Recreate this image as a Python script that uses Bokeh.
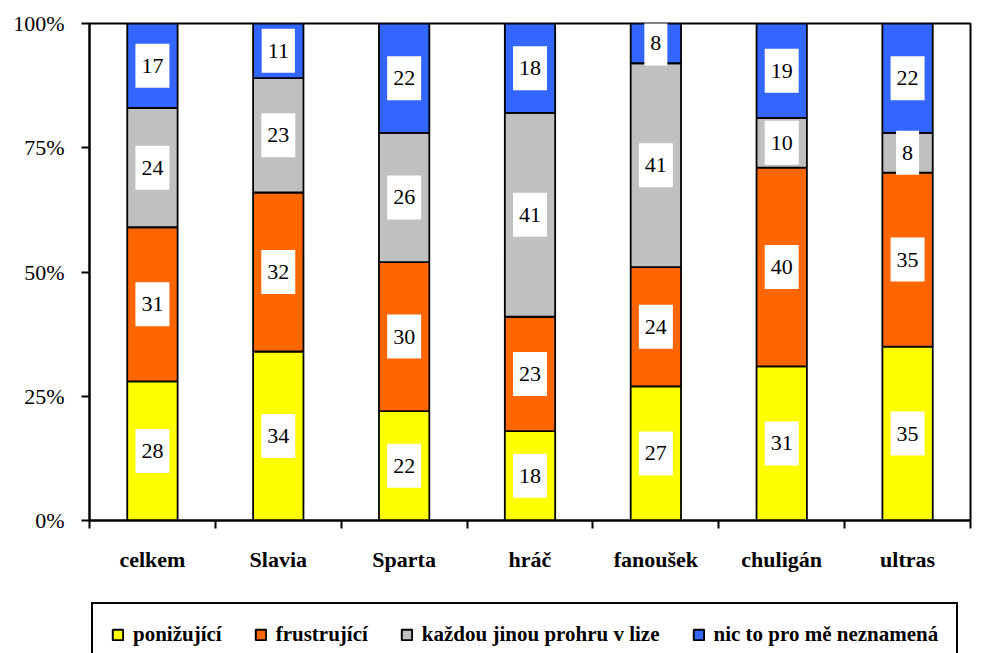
from bokeh.plotting import figure
from bokeh.layouts import column
from bokeh.models import Range1d, FixedTicker, Legend, LegendItem, ColumnDataSource
from bokeh.core.properties import value
from bokeh.embed import file_html
from bokeh.resources import INLINE

categories = ["celkem", "Slavia", "Sparta", "hráč", "fanoušek", "chuligán", "ultras"]
series_names = ["ponižující", "frustrující", "každou jinou prohru v lize", "nic to pro mě neznamená"]
ponizujici = [28, 34, 22, 18, 27, 31, 35]
frustrujici = [31, 32, 30, 23, 24, 40, 35]
kazdou = [24, 23, 26, 41, 41, 10, 8]
nic = [17, 11, 22, 18, 8, 19, 22]
y_ticks = [0, 25, 50, 75, 100]
y_tick_labels = ["0%", "25%", "50%", "75%", "100%"]

colors = ["#FFFF00", "#FF6600", "#C0C0C0", "#3366FF"]
FONT = "Times"

series = [ponizujici, frustrujici, kazdou, nic]
keys = ["s0", "s1", "s2", "s3"]
xs = [i + 0.5 for i in range(len(categories))]

data = dict(x=xs)
for k, s in zip(keys, series):
    data[k] = s
src = ColumnDataSource(data)

p = figure(width=998, height=600, output_backend="svg", toolbar_location=None,
           x_range=Range1d(0, len(categories)), y_range=Range1d(0, 100),
           min_border_left=89, min_border_right=28, min_border_top=23, min_border_bottom=80)
p.grid.visible = False
p.outline_line_color = "black"
p.outline_line_width = 2
p.background_fill_color = "white"
p.border_fill_color = "white"

rs = p.vbar_stack(keys, x="x", width=0.4, source=src, color=colors,
                  line_color="black", line_width=1.8)

# value labels
lx, ly, lt = [], [], []
bottoms = [0] * len(categories)
for s in series:
    for i, v in enumerate(s):
        lx.append(xs[i])
        ly.append(bottoms[i] + v / 2)
        lt.append(str(v))
        bottoms[i] += v
lsrc = ColumnDataSource(dict(x=lx, y=ly, t=lt))
p.text(x="x", y="y", text="t", source=lsrc, text_font=value(FONT), text_font_size="22px",
       text_align="center", text_baseline="middle", text_color="black",
       background_fill_color="white", padding=dict(left=6, right=6, top=15, bottom=15))

# y axis
p.yaxis.ticker = FixedTicker(ticks=y_ticks, minor_ticks=[])
p.yaxis.major_label_overrides = {t: l for t, l in zip(y_ticks, y_tick_labels)}
p.yaxis.major_label_text_font = FONT
p.yaxis.major_label_text_font_size = "22px"
p.yaxis.major_label_text_color = "black"
p.yaxis.major_tick_out = 8
p.yaxis.major_tick_in = 0
p.yaxis.major_tick_line_width = 2
p.yaxis.axis_line_width = 2
p.yaxis.major_label_standoff = 17
p.yaxis.minor_tick_line_color = None

# x axis
p.xaxis.ticker = FixedTicker(ticks=xs, minor_ticks=list(range(len(categories) + 1)))
p.xaxis.major_label_overrides = {x: c for x, c in zip(xs, categories)}
p.xaxis.major_label_text_font = FONT
p.xaxis.major_label_text_font_style = "bold"
p.xaxis.major_label_text_font_size = "22px"
p.xaxis.major_label_text_color = "black"
p.xaxis.major_tick_line_color = None
p.xaxis.major_tick_out = 8
p.xaxis.major_tick_in = 0
p.xaxis.minor_tick_out = 8
p.xaxis.minor_tick_in = 0
p.xaxis.minor_tick_line_width = 2
p.xaxis.minor_tick_line_color = "black"
p.xaxis.axis_line_width = 2
p.xaxis.major_label_standoff = 18

# legend strip below the chart (its bars lie outside its visible range)
pl = figure(width=998, height=53, output_backend="svg", toolbar_location=None,
            x_range=Range1d(0, len(categories)), y_range=Range1d(200, 300),
            x_axis_location=None, y_axis_location=None,
            min_border_left=89, min_border_right=28, min_border_top=0, min_border_bottom=0)
pl.grid.visible = False
pl.outline_line_color = None
pl.border_fill_color = "white"
lrs = pl.vbar_stack(keys, x="x", width=0.4, source=src, color=colors,
                    line_color="black", line_width=2)
items = [LegendItem(label=n, renderers=[r]) for n, r in zip(series_names, lrs)]
legend = Legend(items=items, orientation="horizontal", location="top_left",
                label_text_font=FONT, label_text_font_style="bold", label_text_font_size="21px",
                label_text_color="black", glyph_width=13, glyph_height=13, label_standoff=9,
                spacing=32, padding=18, margin=2, border_line_color="black",
                border_line_width=2.5, border_line_alpha=1, background_fill_alpha=1)
pl.add_layout(legend, "center")

layout = column(p, pl, spacing=0)
open("out.html", "w").write(file_html(layout, INLINE))
